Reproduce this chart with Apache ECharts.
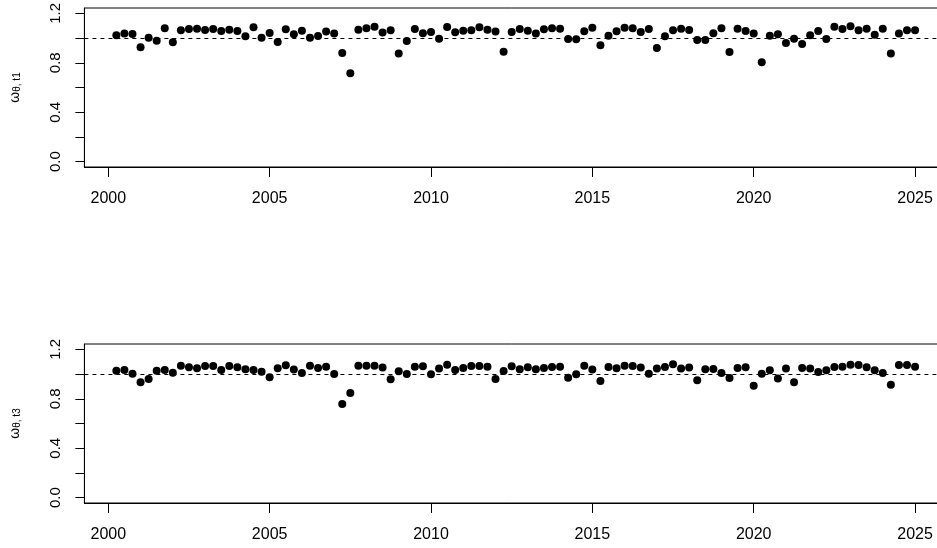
<!DOCTYPE html>
<html>
<head>
<meta charset="utf-8">
<script src="https://cdn.jsdelivr.net/npm/echarts@6/dist/echarts.min.js"></script>
<style>
html,body{margin:0;padding:0;background:#fff;}
#chart{width:937px;height:548px;}
</style>
</head>
<body>
<div id="chart"></div>
<script>
var quarters = [
2000.25,2000.5,2000.75,
2001.0,2001.25,2001.5,2001.75,2002.0,2002.25,2002.5,2002.75,2003.0,2003.25,2003.5,2003.75,
2004.0,2004.25,2004.5,2004.75,2005.0,2005.25,2005.5,2005.75,2006.0,2006.25,2006.5,2006.75,
2007.0,2007.25,2007.5,2007.75,2008.0,2008.25,2008.5,2008.75,2009.0,2009.25,2009.5,2009.75,
2010.0,2010.25,2010.5,2010.75,2011.0,2011.25,2011.5,2011.75,2012.0,2012.25,2012.5,2012.75,
2013.0,2013.25,2013.5,2013.75,2014.0,2014.25,2014.5,2014.75,2015.0,2015.25,2015.5,2015.75,
2016.0,2016.25,2016.5,2016.75,2017.0,2017.25,2017.5,2017.75,2018.0,2018.25,2018.5,2018.75,
2019.0,2019.25,2019.5,2019.75,2020.0,2020.25,2020.5,2020.75,2021.0,2021.25,2021.5,2021.75,
2022.0,2022.25,2022.5,2022.75,2023.0,2023.25,2023.5,2023.75,2024.0,2024.25,2024.5,2024.75,
2025.0
];
var omegaT1 = [
1.022,1.036,1.033,
0.925,1.003,0.979,1.079,0.965,1.063,1.073,1.076,1.065,1.073,1.057,1.068,
1.057,1.014,1.087,1.003,1.041,0.968,1.071,1.030,1.060,1.003,1.017,1.052,
1.036,0.879,0.715,1.068,1.079,1.092,1.044,1.063,0.874,0.976,1.073,1.038,
1.049,0.995,1.090,1.046,1.060,1.063,1.087,1.068,1.052,0.890,1.049,1.073,
1.060,1.036,1.071,1.079,1.076,0.992,0.990,1.054,1.084,0.941,1.019,1.054,
1.084,1.079,1.049,1.073,0.920,1.014,1.063,1.076,1.065,0.984,0.984,1.038,
1.079,0.887,1.076,1.057,1.036,0.804,1.019,1.030,0.960,0.995,0.952,1.022,
1.057,0.992,1.092,1.073,1.095,1.063,1.076,1.027,1.076,0.876,1.036,1.063,
1.063
];
var omegaT3 = [
1.027,1.033,1.003,
0.933,0.960,1.027,1.033,1.011,1.068,1.054,1.046,1.065,1.065,1.033,1.065,
1.054,1.038,1.033,1.019,0.974,1.046,1.071,1.036,1.009,1.068,1.049,1.060,
1.001,0.758,0.847,1.068,1.068,1.068,1.052,0.957,1.022,1.001,1.060,1.063,
0.998,1.044,1.076,1.033,1.049,1.065,1.065,1.060,0.960,1.025,1.063,1.038,
1.054,1.038,1.049,1.057,1.060,0.971,0.998,1.068,1.036,0.944,1.057,1.046,
1.068,1.065,1.052,1.003,1.044,1.057,1.079,1.044,1.052,0.949,1.038,1.041,
1.009,0.968,1.049,1.054,0.906,1.003,1.030,0.963,1.044,0.933,1.049,1.044,
1.017,1.030,1.057,1.060,1.076,1.073,1.054,1.030,1.009,0.914,1.073,1.073,
1.060
];
var xTicks = [2000, 2005, 2010, 2015, 2020, 2025];
var yTicks = [0, 0.2, 0.4, 0.6, 0.8, 1.0, 1.2];
var yLabels = [0, 0.4, 0.8, 1.2];
var refLevel = 1;
var panelNames = ['{w|ω}{s|θ, t1}', '{w|ω}{s|θ, t3}'];

var FONT = '"Liberation Sans", Arial, Helvetica, sans-serif';

function pairs(xs, ys) {
  var out = [];
  for (var i = 0; i < xs.length; i++) out.push([xs[i], ys[i]]);
  return out;
}

function xAxisCfg(idx) {
  return {
    type: 'value', gridIndex: idx, min: 1999.26, max: 2025.99,
    splitLine: {show: false},
    axisLine: {show: true, onZero: false, lineStyle: {color: '#000', width: 1}},
    axisTick: {show: true, customValues: xTicks, length: 10, lineStyle: {color: '#000', width: 1}},
    axisLabel: {show: true, customValues: xTicks, margin: 24, fontSize: 16, color: '#000', fontFamily: FONT,
      formatter: function (v) { return String(v); }}
  };
}
function yAxisCfg(idx) {
  return {
    type: 'value', gridIndex: idx, min: -0.043, max: 1.243,
    splitLine: {show: false},
    axisLine: {show: true, onZero: false, lineStyle: {color: '#000', width: 1}},
    axisTick: {show: true, customValues: yTicks, length: 9, lineStyle: {color: '#000', width: 1}},
    axisLabel: {show: true, customValues: yLabels, rotate: 90, margin: 21, fontSize: 15, color: '#000', fontFamily: FONT,
      formatter: function (v) { return v.toFixed(1); }},
    name: panelNames[idx], nameLocation: 'middle', nameRotate: 90, nameGap: 62,
    nameTextStyle: {
      color: '#000', fontFamily: FONT,
      rich: {
        w: {fontSize: 14, color: '#000', fontFamily: FONT, lineHeight: 18, verticalAlign: 'bottom'},
        s: {fontSize: 10, color: '#000', fontFamily: FONT, lineHeight: 18, verticalAlign: 'bottom', padding: [6, 0, 0, 0]}
      }
    }
  };
}
function seriesCfg(idx, ys) {
  return {
    type: 'scatter', xAxisIndex: idx, yAxisIndex: idx,
    data: pairs(quarters, ys),
    symbol: 'circle', symbolSize: 8,
    itemStyle: {color: '#000', opacity: 1},
    silent: true,
    markLine: {
      silent: true, symbol: 'none', label: {show: false},
      lineStyle: {color: '#000', type: [4, 4], width: 1},
      data: [{yAxis: refLevel}]
    }
  };
}

var chart = echarts.init(document.getElementById('chart'), null, {renderer: 'canvas'});
chart.setOption({
  backgroundColor: '#fff',
  animation: false,
  grid: [
    {left: 84.4, top: 8, width: 862.6, height: 159, show: true, borderColor: '#000', borderWidth: 1, backgroundColor: 'transparent', outerBoundsMode: 'none', containLabel: false},
    {left: 84.4, top: 344, width: 862.6, height: 159, show: true, borderColor: '#000', borderWidth: 1, backgroundColor: 'transparent', outerBoundsMode: 'none', containLabel: false}
  ],
  xAxis: [xAxisCfg(0), xAxisCfg(1)],
  yAxis: [yAxisCfg(0), yAxisCfg(1)],
  series: [seriesCfg(0, omegaT1), seriesCfg(1, omegaT3)]
});
</script>
</body>
</html>
